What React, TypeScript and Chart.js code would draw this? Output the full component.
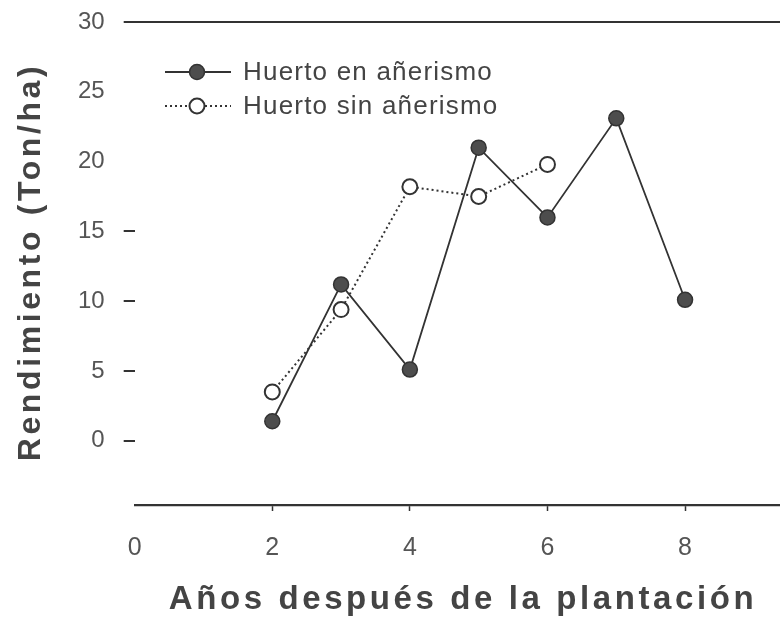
import React, { useEffect, useRef } from 'react';
import { Chart, registerables } from 'chart.js';

Chart.register(...registerables);

const yearsCon = [2, 3, 4, 5, 6, 7, 8];
const conAnerismo = [1.4, 11.2, 5.1, 21.0, 16.0, 23.1, 10.1];
const yearsSin = [2, 3, 4, 5, 6];
const sinAnerismo = [3.5, 9.4, 18.2, 17.5, 19.8];
const seriesLabels = ['Huerto en añerismo', 'Huerto sin añerismo'];
const yTicks = [0, 5, 10, 15, 20, 25, 30];
const yTicksMarked = [0, 5, 10, 15, 30];
const xTicks = [0, 2, 4, 6, 8];
const xTicksMarked = [2, 4, 6, 8];
const xTitle = 'Años después de la plantación';
const yTitle = 'Rendimiento (Ton/ha)';

const FONT = '"Liberation Sans", Arial, Helvetica, sans-serif';
const INK = '#333333';

const legendAndTitles = {
  id: 'legendAndTitles',
  afterDraw(chart: any) {
    const ctx = chart.ctx as CanvasRenderingContext2D;
    ctx.save();
    // legend
    chart.data.datasets.forEach((ds: any, i: number) => {
      const y = 72 + i * 34;
      ctx.beginPath();
      ctx.strokeStyle = INK;
      ctx.lineWidth = ds.borderWidth;
      ctx.setLineDash(ds.borderDash || []);
      ctx.moveTo(165, y);
      ctx.lineTo(231, y);
      ctx.stroke();
      ctx.setLineDash([]);
      ctx.beginPath();
      ctx.arc(197, y, 7.5, 0, Math.PI * 2);
      ctx.fillStyle = ds.pointBackgroundColor;
      ctx.fill();
      ctx.lineWidth = ds.pointBorderWidth;
      ctx.strokeStyle = ds.pointBorderColor;
      ctx.stroke();
      ctx.fillStyle = '#444444';
      ctx.font = `26px ${FONT}`;
      (ctx as any).letterSpacing = '1.2px';
      ctx.textAlign = 'left';
      ctx.textBaseline = 'middle';
      ctx.fillText(ds.label, 243, y + 1);
      (ctx as any).letterSpacing = '0px';
    });
    // axis titles
    ctx.fillStyle = '#444444';
    ctx.font = `bold 33px ${FONT}`;
    (ctx as any).letterSpacing = '3.6px';
    ctx.textAlign = 'center';
    ctx.textBaseline = 'middle';
    ctx.fillText(xTitle, 463, 600);
    ctx.translate(31, 262);
    ctx.rotate(-Math.PI / 2);
    ctx.font = `bold 32px ${FONT}`;
    ctx.fillText(yTitle, 0, 0);
    (ctx as any).letterSpacing = '0px';
    ctx.restore();
  },
};

export default function App() {
  const ref = useRef<HTMLCanvasElement | null>(null);
  useEffect(() => {
    if (!ref.current) return;
    const chart = new Chart(ref.current, {
      type: 'line',
      data: {
        datasets: [
          {
            label: seriesLabels[0],
            data: yearsCon.map((x, i) => ({ x, y: conAnerismo[i] })),
            borderColor: INK,
            borderWidth: 1.8,
            pointRadius: 7.5,
            pointBackgroundColor: '#4d4d4d',
            pointBorderColor: '#333333',
            pointBorderWidth: 1.5,
            tension: 0,
          },
          {
            label: seriesLabels[1],
            data: yearsSin.map((x, i) => ({ x, y: sinAnerismo[i] })),
            borderColor: INK,
            borderWidth: 2,
            borderDash: [2, 3],
            pointRadius: 7.5,
            pointBackgroundColor: '#ffffff',
            pointBorderColor: INK,
            pointBorderWidth: 2,
            tension: 0,
          },
        ] as any,
      },
      options: {
        animation: false,
        responsive: true,
        maintainAspectRatio: false,
        layout: { autoPadding: false, padding: { left: 59, right: 0, top: 0, bottom: 36 } },
        plugins: { legend: { display: false }, tooltip: { enabled: false } },
        scales: {
          x: {
            type: 'linear',
            min: 0,
            max: 9.38,
            afterBuildTicks: (scale: any) => {
              scale.ticks = xTicks.map((v) => ({ value: v }));
            },
            border: { display: true, color: INK, width: 2.2 },
            grid: {
              display: true,
              drawOnChartArea: false,
              drawTicks: true,
              tickLength: 6,
              tickWidth: 1.5,
              tickColor: (c: any) => (xTicksMarked.includes(c.tick?.value) ? INK : 'rgba(0,0,0,0)'),
            },
            ticks: {
              color: '#555555',
              font: { family: FONT, size: 25 },
              padding: 22,
              maxRotation: 0,
            },
          },
          y: {
            type: 'linear',
            min: -4.6,
            max: 30,
            afterBuildTicks: (scale: any) => {
              scale.ticks = yTicks.map((v) => ({ value: v }));
            },
            border: { display: false },
            grid: {
              display: true,
              drawOnChartArea: true,
              drawTicks: true,
              tickLength: 11,
              lineWidth: 2,
              color: (c: any) => (c.tick?.value === 30 ? INK : 'rgba(0,0,0,0)'),
              tickColor: (c: any) => (yTicksMarked.includes(c.tick?.value) ? INK : 'rgba(0,0,0,0)'),
            },
            ticks: {
              color: '#555555',
              font: { family: FONT, size: 24, lineHeight: 0.25 },
              padding: 19,
            },
          },
        },
      },
      plugins: [legendAndTitles],
    } as any);
    return () => chart.destroy();
  }, []);
  return (
    <div style={{ position: 'absolute', left: 0, top: 0, width: 780, height: 621, background: '#ffffff' }}>
      <canvas ref={ref} />
    </div>
  );
}
